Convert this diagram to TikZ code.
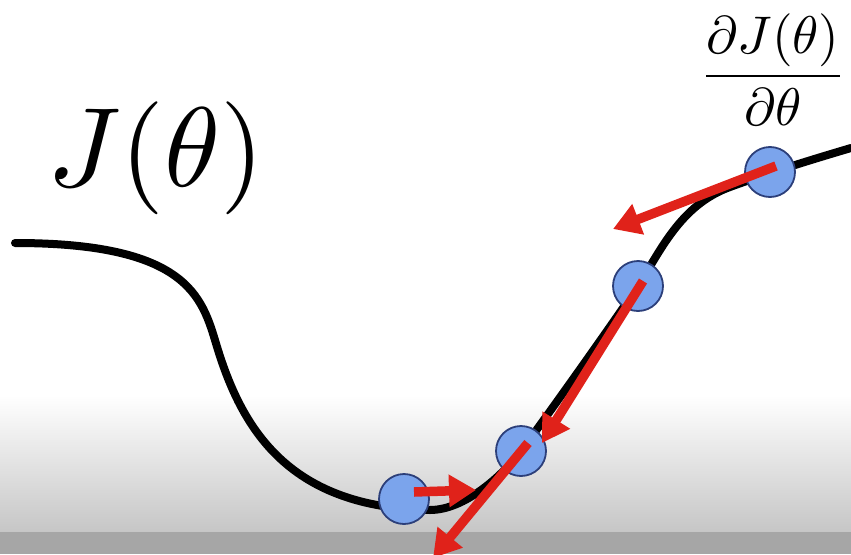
\documentclass[tikz,border=0pt]{standalone}
\usepackage{graphicx}
\usetikzlibrary{arrows.meta}
\definecolor{ptfill}{HTML}{7BA4EC}
\definecolor{ptdraw}{HTML}{2C3F7A}
\definecolor{arrred}{HTML}{E0221A}
\definecolor{bandgray}{HTML}{A6A6A6}
\definecolor{shadegray}{HTML}{C6C6C6}
\tikzset{
  pt/.style={circle, fill=ptfill, draw=ptdraw, line width=1.8pt, minimum size=50pt, inner sep=0pt},
  grad/.style={arrred, line width=9.5pt, -{Triangle[width=31pt,length=27pt]}},
  costcurve/.style={black, line width=8pt, line cap=round}
}
\begin{document}
\begin{tikzpicture}[x=1pt,y=-1pt]
\useasboundingbox (0,0) rectangle (851,554);
\clip (0,0) rectangle (851,554);
\fill[white] (0,0) rectangle (851,554);
\shade[top color=white, bottom color=shadegray] (0,395) rectangle (851,532);
\fill[bandgray] (0,532) rectangle (851,554);

\draw[costcurve] (15,243) .. controls (195,243) and (203,302) .. (218,350)
  .. controls (243,430) and (290,508) .. (430,510)
  .. controls (465,510) and (503,475) .. (521,451)
  .. controls (545,419) and (616,319) .. (638,286)
  .. controls (660,252) and (680,205) .. (730,187)
  .. controls (760,176) and (800,163) .. (851,148);

\node[pt] (c1) at (404,499) {};
\node[pt] (c2) at (521,451) {};
\node[pt] (c3) at (638,286) {};
\node[pt] (c4) at (770,172) {};

\coordinate (t1) at (476,490);
\coordinate (t2) at (433,558);
\coordinate (t3) at (542,443);
\coordinate (t4) at (613,229);

\draw[grad] ([shift={(10,-7)}]c1.center) -- (t1);
\draw[grad] ([shift={(7,-8)}]c2.center) -- (t2);
\draw[grad] ([shift={(5,-5)}]c3.center) -- (t3);
\draw[grad] ([shift={(6,-6)}]c4.center) -- (t4);

\node[inner sep=0pt] (J) at (156,158) {\scalebox{11.3}{$J(\theta)$}};
\node[inner sep=0pt] (dJ) at (773,70) {\scalebox{5.3}{$\displaystyle\frac{\partial J(\theta)}{\partial\theta}$}};
\end{tikzpicture}
\end{document}
